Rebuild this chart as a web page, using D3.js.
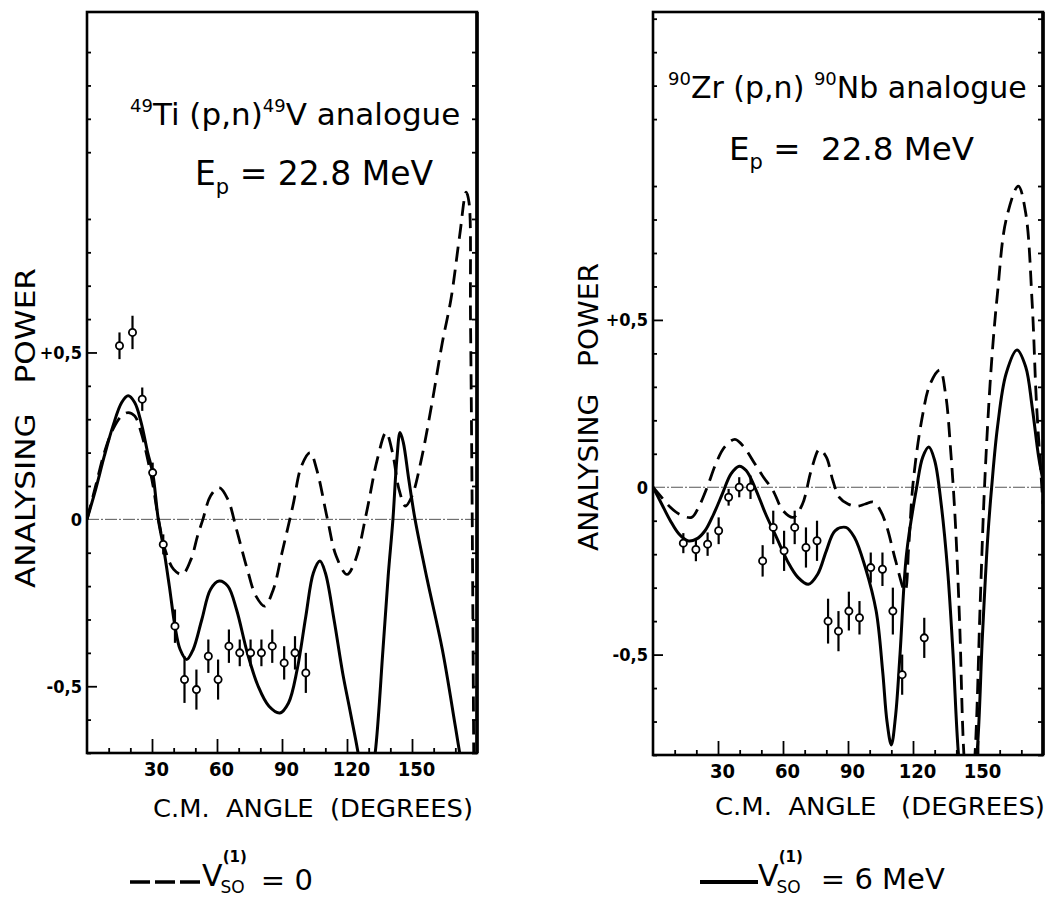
<!DOCTYPE html>
<html><head><meta charset="utf-8">
<script src="https://cdn.jsdelivr.net/npm/d3@7"></script>
<style>
body{margin:0;background:#fff}
svg{display:block}
text{font-family:"DejaVu Sans",sans-serif;fill:#000;white-space:pre}
.cond{font-family:"DejaVu Sans Condensed","DejaVu Sans",sans-serif;font-stretch:condensed}
</style>
</head><body>
<svg id="c" width="1055" height="899"></svg>
<script>
// ---------- DATA ----------
// 49Ti(p,n)49V analogue  (left panel)
const tiSolidAngle = [0,4,8,12,16,19,22,25,28,30.3,32.9,35.2,38,40.6,43,46,49,53,57,61,65,69,74,79,84,89,93,97,101,104.5,107.5,110,114,118,121,124,127,130,133,136.6,139,141.2,143,144.5,146,148.5,151.4,157,164,170,174];
const tiSolidValue = [0,0.09,0.19,0.28,0.35,0.37,0.35,0.29,0.2,0.14,0,-0.08,-0.2,-0.32,-0.39,-0.42,-0.39,-0.3,-0.21,-0.185,-0.2,-0.27,-0.4,-0.5,-0.56,-0.58,-0.55,-0.45,-0.29,-0.16,-0.125,-0.16,-0.3,-0.46,-0.56,-0.66,-0.76,-0.82,-0.7,-0.39,-0.17,0,0.18,0.26,0.23,0.12,0,-0.18,-0.39,-0.62,-0.78];
const tiDashAngle = [0,4,8,12,16,19,22,25,28,30.5,33,36,40,44,48,51,53.5,57,61,65,69,74,78,82,86,90,95,99,103,106,111,115,120,124,129,134,138,141,144,147,150,154,159,164,168,172,175,176.3,177,177.8,178.5];
const tiDashValue = [0,0.1,0.2,0.27,0.31,0.32,0.31,0.26,0.18,0.1,0,-0.09,-0.15,-0.165,-0.12,-0.05,0,0.07,0.095,0.06,-0.03,-0.15,-0.23,-0.26,-0.21,-0.1,0.04,0.16,0.2,0.15,0,-0.11,-0.165,-0.12,0.02,0.18,0.26,0.2,0.09,0.04,0.07,0.17,0.34,0.53,0.66,0.85,0.98,0.95,0.6,0,-0.72];
const tiDataAngle = [15,21,25.5,30.3,35.2,40.6,45,50.5,56,60.5,65.5,70.5,75.5,80.5,85.5,91,96,101];
const tiDataValue = [0.52,0.56,0.36,0.14,-0.075,-0.32,-0.48,-0.51,-0.41,-0.48,-0.38,-0.4,-0.4,-0.4,-0.38,-0.43,-0.4,-0.46];
const tiDataError = [0.04,0.05,0.035,0.03,0.03,0.05,0.07,0.06,0.05,0.06,0.05,0.04,0.04,0.04,0.05,0.05,0.05,0.06];

// 90Zr(p,n)90Nb analogue  (right panel)
const zrSolidAngle = [0,4,8,12,16,20,24,28,32,36,39.8,43,47,52,57,62,67,71.7,76,80,84,89,93,98,103,106,108,110,112,114,117,121.7,124.5,127.3,130,133,136,138.5,141,145,149.5,152,154.5,156.3,159,163,168,172,175,178,180];
const zrSolidValue = [0,-0.05,-0.1,-0.14,-0.16,-0.155,-0.13,-0.08,-0.02,0.04,0.063,0.05,0,-0.08,-0.15,-0.22,-0.27,-0.29,-0.26,-0.19,-0.13,-0.12,-0.15,-0.24,-0.37,-0.55,-0.7,-0.77,-0.68,-0.5,-0.2,0,0.09,0.12,0.08,-0.05,-0.25,-0.5,-0.8,-1.05,-0.8,-0.45,-0.15,0,0.18,0.34,0.41,0.36,0.24,0.09,0.02];
const zrDashAngle = [0,4,8,12,17.8,21,25,29,33,37.8,42,47,51,55.4,60,64.7,69,73,76.8,80,83,86,90,94,98,101.7,105,108,112,116.3,118,120,124,128,132.4,135,137.5,139.5,141.5,143.5,146,148.6,151,153,156,159,163,168.6,172,175,177,180];
const zrDashValue = [0,-0.03,-0.06,-0.08,-0.09,-0.06,0,0.07,0.12,0.143,0.12,0.07,0.03,-0.01,-0.07,-0.09,-0.05,0.05,0.113,0.09,0.02,-0.03,-0.05,-0.057,-0.05,-0.044,-0.07,-0.12,-0.22,-0.31,-0.18,0.01,0.2,0.31,0.35,0.28,0.1,-0.1,-0.4,-0.8,-1.0,-0.8,-0.35,0,0.35,0.58,0.8,0.9,0.82,0.55,0.25,-0.05];
const zrDataAngle = [14,19.8,25.2,30.3,34.9,39.8,45,50.6,55.5,60.5,65.4,70.6,75.7,80.8,85.6,90.4,95.3,100.5,105.9,110.7,115,125.2];
const zrDataValue = [-0.167,-0.186,-0.17,-0.13,-0.03,0,0,-0.22,-0.12,-0.19,-0.12,-0.18,-0.16,-0.4,-0.43,-0.37,-0.39,-0.24,-0.245,-0.37,-0.56,-0.45];
const zrDataError = [0.03,0.035,0.035,0.04,0.025,0.03,0.035,0.047,0.05,0.06,0.05,0.06,0.06,0.067,0.06,0.058,0.05,0.045,0.05,0.07,0.06,0.06];

// ticks
const xMinorTicks = [10,20,40,50,70,80,100,110,130,140,160,170];
const xMajorTicks = [30,60,90,120,150];
const yMajorTicks = [0.5,0,-0.5];
const yMajorLabels = ["+0,5","0","-0,5"];

// ---------- DRAW ----------
const svg = d3.select("#c");
svg.append("rect").attr("width",1055).attr("height",899).attr("fill","#fff");

function drawPanel(p){
  const x = d3.scaleLinear().domain([0,180]).range([p.left,p.right]);
  const y = d3.scaleLinear().domain(p.yDomain).range([p.bottom,p.top]);
  const g = svg.append("g");
  g.append("clipPath").attr("id",p.id).append("rect")
    .attr("x",p.left).attr("y",p.top).attr("width",p.right-p.left).attr("height",p.bottom-p.top);

  // zero line (dash-dot)
  g.append("line").attr("x1",x(0)).attr("x2",x(180)).attr("y1",y(0)).attr("y2",y(0))
    .attr("stroke","#555").attr("stroke-width",1).attr("stroke-dasharray","12,2,2,2");

  const yMinor = d3.range(Math.ceil(p.yDomain[0]*10), Math.floor(p.yDomain[1]*10)+1)
      .map(v=>v/10).filter(v=>Math.abs(Math.round(v*10)%5)!==0);
  const styleAxis = sel => { sel.select(".domain").remove(); sel.selectAll("line").attr("stroke","#000").attr("stroke-width",1.8); };

  g.append("g").attr("transform",`translate(${p.left},0)`)
    .call(d3.axisLeft(y).tickValues(yMinor).tickSize(-4).tickFormat("")).call(styleAxis);
  const ly = g.append("g").attr("transform",`translate(${p.left},0)`)
    .call(d3.axisLeft(y).tickValues(yMajorTicks).tickSize(-10).tickPadding(5).tickFormat((d,i)=>yMajorLabels[i]))
    .call(styleAxis);
  ly.selectAll("text").attr("class","cond").attr("font-size",18).attr("font-weight","bold")
    .attr("font-family",null).attr("fill","#000");
  ly.selectAll(".tick").filter(d=>d===0).select("line").remove();

  g.append("g").attr("transform",`translate(${p.right},0)`)
    .call(d3.axisRight(y).tickValues(yMinor.concat([0.5,-0.5])).tickSize(-5).tickFormat("")).call(styleAxis);

  g.append("g").attr("transform",`translate(0,${p.bottom})`)
    .call(d3.axisBottom(x).tickValues(xMinorTicks).tickSize(-5).tickFormat("")).call(styleAxis);
  const bx = g.append("g").attr("transform",`translate(0,${p.bottom})`)
    .call(d3.axisBottom(x).tickValues(xMajorTicks).tickSize(-14).tickPadding(9).tickFormat(d3.format("d")))
    .call(styleAxis);
  bx.selectAll("text").attr("class","cond").attr("font-size",20).attr("font-weight","bold")
    .attr("font-family",null).attr("fill","#000").attr("dx",4);

  // frame
  g.append("rect").attr("x",p.left).attr("y",p.top).attr("width",p.right-p.left).attr("height",p.bottom-p.top)
    .attr("fill","none").attr("stroke","#000").attr("stroke-width",2.6);
  g.append("line").attr("x1",p.right).attr("x2",p.right).attr("y1",p.top).attr("y2",p.bottom)
    .attr("stroke","#000").attr("stroke-width",3.6);

  // curves
  const line = d3.line().x(d=>x(d[0])).y(d=>y(d[1])).curve(d3.curveCatmullRom.alpha(0.5));
  const cg = g.append("g").attr("clip-path",`url(#${p.id})`);
  cg.append("path").datum(d3.zip(p.dashA,p.dashV)).attr("d",line)
    .attr("fill","none").attr("stroke","#000").attr("stroke-width",2.8).attr("stroke-dasharray","15,8");
  cg.append("path").datum(d3.zip(p.solidA,p.solidV)).attr("d",line)
    .attr("fill","none").attr("stroke","#000").attr("stroke-width",3);

  // data points
  const pts = d3.zip(p.dataA,p.dataV,p.dataE);
  const dg = g.append("g");
  dg.selectAll("line.err").data(pts).join("line").attr("class","err")
    .attr("x1",d=>x(d[0])).attr("x2",d=>x(d[0]))
    .attr("y1",d=>y(d[1]+d[2])).attr("y2",d=>y(d[1]-d[2]))
    .attr("stroke","#000").attr("stroke-width",2.2);
  dg.selectAll("circle").data(pts).join("circle")
    .attr("cx",d=>x(d[0])).attr("cy",d=>y(d[1])).attr("r",3.6)
    .attr("fill","#fff").attr("stroke","#000").attr("stroke-width",1.8);
}

drawPanel({id:"clipTi",left:87,right:477,top:12,bottom:753,yDomain:[-0.70,1.52],
  solidA:tiSolidAngle,solidV:tiSolidValue,dashA:tiDashAngle,dashV:tiDashValue,
  dataA:tiDataAngle,dataV:tiDataValue,dataE:tiDataError});
drawPanel({id:"clipZr",left:653,right:1043,top:12,bottom:755,yDomain:[-0.80,1.42],
  solidA:zrSolidAngle,solidV:zrSolidValue,dashA:zrDashAngle,dashV:zrDashValue,
  dataA:zrDataAngle,dataV:zrDataValue,dataE:zrDataError});

// ---------- TEXT ----------
function rich(x0,y0,parts){
  const t = svg.append("text").attr("x",x0).attr("y",y0);
  parts.forEach(pt=>{
    const s = t.append("tspan").text(pt.t).attr("font-size",pt.s);
    if(pt.dy) s.attr("dy",pt.dy);
    if(pt.dx) s.attr("dx",pt.dx);
    if(pt.w) s.attr("font-weight",pt.w);
  });
  return t;
}
// left titles
rich(130,125,[{t:"49",s:18,dy:-13},{t:"Ti (p,n)",s:31,dy:13},{t:"49",s:18,dy:-13},{t:"V analogue",s:31,dy:13}]);
rich(195,185,[{t:"E",s:33},{t:"p",s:21,dy:9},{t:" = 22.8 MeV",s:33,dy:-9}]);
// right titles
rich(668,98,[{t:"90",s:18,dy:-13},{t:"Zr (p,n) ",s:30,dy:13},{t:"90",s:18,dy:-13},{t:"Nb analogue",s:30,dy:13}]);
rich(729,160,[{t:"E",s:32.5},{t:"p",s:21,dy:9},{t:" =  22.8 MeV",s:32.5,dy:-9}]);

// axis titles
svg.append("text").attr("class","cond").attr("x",153).attr("y",817).attr("font-size",25)
  .attr("textLength",320).attr("lengthAdjust","spacingAndGlyphs").text("C.M.  ANGLE  (DEGREES)");
svg.append("text").attr("class","cond").attr("x",715).attr("y",815).attr("font-size",25)
  .attr("textLength",330).attr("lengthAdjust","spacingAndGlyphs").text("C.M.  ANGLE   (DEGREES)");
svg.append("text").attr("transform","translate(35,428) rotate(-90)").attr("text-anchor","middle")
  .attr("font-size",27).attr("textLength",320).attr("lengthAdjust","spacingAndGlyphs").text("ANALYSING   POWER");
svg.append("text").attr("transform","translate(598,407) rotate(-90)").attr("text-anchor","middle")
  .attr("font-size",27).attr("textLength",288).attr("lengthAdjust","spacingAndGlyphs").text("ANALYSING   POWER");

// legend
svg.append("line").attr("x1",130).attr("x2",201).attr("y1",882).attr("y2",882)
  .attr("stroke","#000").attr("stroke-width",3.5).attr("stroke-dasharray","20,5");
rich(202,886,[{t:"V",s:30},{t:"SO",s:17,dy:7,dx:-2},{t:"(1)",s:15,w:"bold",dx:-22,dy:-31},{t:"= 0",s:29,dx:14,dy:28}]);

svg.append("line").attr("x1",700).attr("x2",758).attr("y1",882).attr("y2",882)
  .attr("stroke","#000").attr("stroke-width",4);
rich(758,886,[{t:"V",s:30},{t:"SO",s:17,dy:7,dx:-2},{t:"(1)",s:15,w:"bold",dx:-22,dy:-31},{t:"= 6 MeV",s:29,dx:18,dy:27}]);
</script>
</body></html>
